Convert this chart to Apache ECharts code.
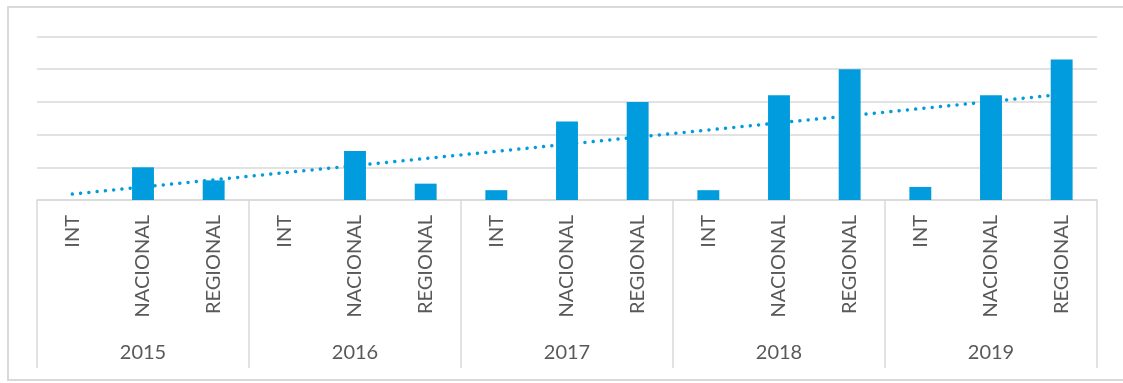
<!DOCTYPE html>
<html>
<head>
<meta charset="utf-8">
<script src="https://cdn.jsdelivr.net/npm/echarts@6/dist/echarts.min.js"></script>
<style>
  html, body { margin: 0; padding: 0; background: #ffffff; }
  #chart { width: 1123px; height: 383px; }
</style>
</head>
<body>
<div id="chart"></div>
<script>
// Years (outer axis level) and types (inner axis level)
const years = ['2015', '2016', '2017', '2018', '2019'];
const types = ['INT', 'NACIONAL', 'REGIONAL'];

// Values per type, one entry per year
const intValues      = [0, 0, 3, 3, 4];
const nacionalValues = [10, 15, 24, 32, 32];
const regionalValues = [6, 5, 30, 40, 43];

// Linear trend line: value at first and last category
const trendStart = 1.8;
const trendEnd = 32.3;

// Flatten into year x type order
const categories = [];
const values = [];
years.forEach((y, i) => {
  categories.push('INT');      values.push(intValues[i]);
  categories.push('NACIONAL'); values.push(nacionalValues[i]);
  categories.push('REGIONAL'); values.push(regionalValues[i]);
});
const last = categories.length - 1;
const trend = categories.map((_, i) => i === 0 ? trendStart : (i === last ? trendEnd : null));

const GRID = '#d9d9d9';
const TEXT = '#595959';
const FONT = 'Lato, "Open Sans", sans-serif';

const chart = echarts.init(document.getElementById('chart'), null, { renderer: 'canvas' });
chart.setOption({
  backgroundColor: '#ffffff',
  animation: false,
  graphic: [{
    type: 'rect',
    silent: true,
    z: -10,
    shape: { x: 8, y: 7, width: 1140, height: 373 },
    style: { fill: 'none', stroke: GRID, lineWidth: 2 }
  }],
  grid: { left: 37, right: 26, top: 36.5, bottom: 183, containLabel: false },
  xAxis: [{
    type: 'category',
    data: categories,
    position: 'bottom',
    axisLine: { show: true, lineStyle: { color: GRID, width: 1.5 } },
    axisTick: { show: false },
    axisLabel: {
      rotate: 90,
      interval: 0,
      margin: 15,
      color: TEXT,
      fontFamily: FONT,
      fontSize: 20
    },
    splitLine: { show: false }
  }, {
    type: 'category',
    data: years,
    position: 'bottom',
    axisLine: { show: false },
    axisTick: { show: true, length: 168, lineStyle: { color: GRID, width: 1.5 } },
    axisLabel: {
      interval: 0,
      margin: 153,
      verticalAlign: 'middle',
      color: TEXT,
      fontFamily: FONT,
      fontSize: 20
    },
    splitLine: { show: false }
  }],
  yAxis: {
    type: 'value',
    min: 0,
    max: 50,
    interval: 10,
    axisLine: { show: false },
    axisTick: { show: false },
    axisLabel: { show: false },
    splitLine: { show: true, lineStyle: { color: GRID, width: 1.5 } }
  },
  series: [{
    name: 'Trend',
    type: 'line',
    xAxisIndex: 0,
    data: trend,
    connectNulls: true,
    showSymbol: false,
    symbol: 'none',
    z: 1,
    lineStyle: { color: '#009CDE', width: 3.5, type: [0.01, 8.3], cap: 'round' }
  }, {
    name: 'Valores',
    type: 'bar',
    xAxisIndex: 0,
    data: values,
    barWidth: '31%',
    z: 2,
    itemStyle: { color: '#009CDE' }
  }]
});
</script>
</body>
</html>
